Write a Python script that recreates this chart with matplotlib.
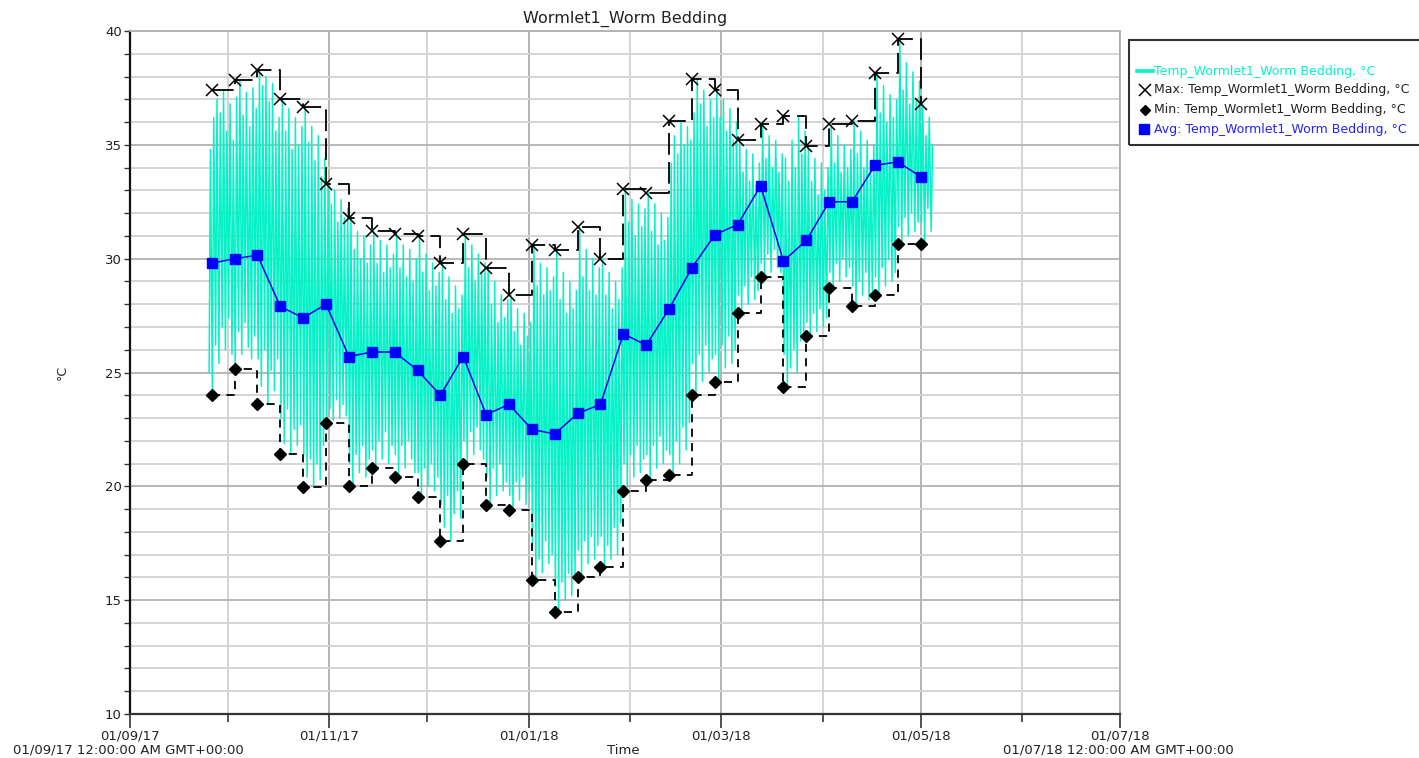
import matplotlib
matplotlib.use('Agg')
import matplotlib.pyplot as plt
import matplotlib.dates as mdates
from matplotlib.lines import Line2D
from matplotlib.patches import Rectangle
from matplotlib.ticker import MultipleLocator
import pandas as pd
from datetime import datetime, timedelta

# ---------------- data ----------------
title = "Wormlet1_Worm Bedding"
series_name = "Temp_Wormlet1_Worm Bedding, °C"

week_start = "2017-09-26"
weekly_max = [37.4, 37.85, 38.3, 37.0, 36.65, 33.3, 31.8, 31.2, 31.1, 31.0, 29.8,
              31.1, 29.6, 28.4, 30.6, 30.4, 31.4, 30.0, 33.05, 32.9, 36.05, 37.9,
              37.4, 35.2, 35.9, 36.25, 34.95, 35.9, 36.05, 38.15, 39.65, 36.8]
weekly_min = [24.0, 25.15, 23.6, 21.4, 19.95, 22.8, 20.0, 20.8, 20.4, 19.55, 17.6,
              21.0, 19.2, 18.95, 15.9, 14.5, 16.0, 16.45, 19.8, 20.3, 20.5, 24.0,
              24.6, 27.6, 29.2, 24.35, 26.6, 28.7, 27.9, 28.4, 30.65, 30.65]
weekly_avg = [29.8, 30.0, 30.15, 27.9, 27.4, 28.0, 25.7, 25.9, 25.9, 25.1, 24.0,
              25.7, 23.15, 23.6, 22.5, 22.3, 23.2, 23.6, 26.7, 26.2, 27.8, 29.6,
              31.05, 31.5, 33.2, 29.9, 30.8, 32.5, 32.5, 34.1, 34.25, 33.6]

# daily readings (first day 2017-09-25): daily high / daily low, °C
daily_start = "2017-09-25"
daily_high = [
    34.8,
    36.2, 37.0, 36.4, 37.4, 35.6, 36.8, 35.2,
    37.1, 37.85, 36.3, 37.3, 35.8, 37.5, 36.6,
    38.3, 37.6, 38.0, 36.9, 37.7, 35.6, 36.2,
    37.0, 35.6, 36.6, 34.8, 36.2, 35.0, 35.8,
    36.65, 35.1, 35.8, 34.3, 35.4, 33.6, 34.4,
    33.3, 32.4, 33.0, 31.6, 32.6, 31.8, 32.2,
    31.8, 30.4, 31.2, 30.0, 31.0, 29.8, 30.6,
    31.2, 29.8, 30.8, 29.4, 30.6, 29.6, 30.2,
    31.1, 29.6, 30.6, 29.2, 30.4, 29.0, 30.0,
    31.0, 29.4, 30.2, 28.6, 29.8, 28.8, 29.4,
    29.8, 28.2, 29.2, 27.6, 28.8, 27.8, 28.4,
    31.1, 29.6, 30.6, 29.0, 30.2, 29.4, 29.8,
    29.6, 28.0, 29.0, 27.2, 28.4, 27.4, 28.2,
    28.4, 26.8, 27.8, 26.2, 27.6, 26.6, 27.2,
    30.6, 28.8, 29.8, 28.4, 29.6, 28.6, 29.2,
    30.4, 28.2, 29.4, 27.6, 29.0, 27.8, 28.6,
    31.4, 29.2, 30.4, 28.6, 30.0, 28.4, 29.6,
    30.0, 28.4, 29.4, 27.8, 29.0, 28.2, 29.6,
    33.05, 31.6, 32.6, 31.0, 32.4, 31.4, 32.2,
    32.9, 31.2, 32.4, 30.6, 32.0, 30.8, 31.8,
    34.2, 35.4, 34.6, 36.05, 35.0, 35.8, 35.2,
    36.4, 37.9, 36.8, 37.4, 35.8, 37.0, 36.2,
    37.4, 36.2, 37.0, 35.6, 36.6, 35.2, 36.0,
    35.2, 33.8, 34.8, 33.4, 34.6, 33.2, 34.2,
    35.9, 34.4, 35.4, 34.0, 35.2, 33.8, 34.6,
    34.4, 33.4, 35.2, 34.0, 36.25, 34.6, 35.6,
    34.95, 33.4, 34.4, 32.8, 34.2, 33.0, 34.0,
    35.9, 34.2, 35.4, 33.8, 35.0, 34.0, 34.8,
    36.05, 34.6, 35.6, 34.0, 35.2, 34.2, 35.0,
    38.15, 36.4, 37.6, 36.0, 37.2, 36.2, 37.0,
    39.65, 37.4, 38.6, 36.8, 38.2, 37.0, 37.8,
    36.8, 35.4, 36.2, 35.0,
]
daily_low = [
    25.0,
    24.0, 26.2, 25.4, 27.0, 26.0, 27.4, 25.8,
    25.15, 26.8, 25.8, 27.2, 26.1, 25.6, 26.6,
    25.6, 24.4, 26.0, 23.6, 25.1, 24.2, 25.6,
    23.0, 21.9, 23.4, 21.4, 22.5, 21.8, 22.7,
    21.4, 20.4, 21.2, 19.95, 21.0, 20.3, 21.8,
    22.8, 23.4, 22.9, 23.8, 23.0, 23.6, 23.1,
    21.0, 20.0, 21.4, 20.6, 21.8, 20.4, 21.2,
    21.6, 20.8, 22.0, 21.2, 22.4, 21.0, 21.8,
    21.4, 20.4, 21.8, 20.8, 22.0, 21.2, 20.6,
    20.6, 19.55, 20.8, 20.0, 21.0, 19.8, 20.4,
    19.2, 18.2, 19.6, 17.6, 18.8, 19.8, 18.6,
    22.0, 21.0, 22.4, 21.4, 22.6, 21.6, 21.2,
    20.4, 19.2, 20.8, 19.6, 21.0, 19.8, 20.2,
    19.6, 18.95, 20.2, 19.4, 20.4, 19.2, 19.8,
    17.2, 15.9, 16.8, 16.2, 17.6, 16.6, 17.0,
    15.6, 14.5, 15.8, 15.0, 16.2, 15.2, 16.0,
    17.2, 16.0, 17.6, 16.6, 17.8, 16.8, 17.4,
    17.8, 16.45, 17.4, 16.8, 18.2, 17.0, 18.4,
    21.0, 19.8, 21.4, 20.4, 21.8, 20.6, 21.2,
    21.4, 20.3, 21.8, 20.8, 22.2, 21.0, 21.6,
    21.4, 20.5, 22.0, 21.0, 22.6, 21.6, 22.8,
    25.4, 24.0, 25.8, 24.6, 26.2, 25.0, 25.6,
    25.8, 24.6, 26.2, 25.2, 26.6, 25.4, 26.0,
    28.4, 27.6, 28.8, 28.0, 29.2, 28.2, 28.6,
    29.8, 29.2, 30.2, 29.4, 30.4, 29.6, 29.4,
    25.8, 24.35, 25.2, 26.0, 25.0, 26.4, 26.8,
    27.2, 26.6, 27.6, 26.8, 27.8, 27.0, 27.4,
    29.4, 28.7, 29.8, 29.0, 30.0, 29.2, 29.6,
    28.8, 27.9, 29.0, 28.4, 29.4, 28.2, 28.6,
    29.2, 28.4, 29.6, 28.8, 30.0, 29.0, 29.4,
    31.4, 30.65, 31.8, 31.0, 32.0, 31.2, 31.6,
    31.6, 30.65, 32.2, 31.2,
]

x_major_labels = ["01/09/17", "01/11/17", "01/01/18", "01/03/18", "01/05/18", "01/07/18"]
x_edge_left = "01/09/17 12:00:00 AM GMT+00:00"
x_edge_right = "01/07/18 12:00:00 AM GMT+00:00"

# ---------------- styling ----------------
W, H = 1419, 758
CYAN = '#05F2C7'
BLUE = '#0000FF'
TXT = '#222222'

plt.rcParams['font.family'] = ['DejaVu Sans']

fig = plt.figure(figsize=(W / 100, H / 100), dpi=100)
fig.patch.set_facecolor('white')
ax = fig.add_axes([130 / W, 1 - 714 / H, 990 / W, 683 / H])

weeks = pd.date_range(week_start, periods=len(weekly_max), freq='7D')

# cyan raw trace: daily low (early morning) and daily high (afternoon)
d0 = pd.Timestamp(daily_start)
t_raw, v_raw = [], []
for i, (lo, hi) in enumerate(zip(daily_low, daily_high)):
    day = d0 + pd.Timedelta(days=i)
    t_raw += [day + pd.Timedelta(hours=5), day + pd.Timedelta(hours=15)]
    v_raw += [lo, hi]
ax.plot(t_raw, v_raw, color=CYAN, lw=1.1, zorder=3)

# max / min step lines
ax.plot(weeks, weekly_max, drawstyle='steps-post', color='black', lw=1.3,
        linestyle=(0, (12, 4)), zorder=4)
ax.plot(weeks, weekly_min, drawstyle='steps-post', color='black', lw=1.3,
        linestyle=(0, (4.5, 3.5)), zorder=4)
ax.plot(weeks, weekly_max, linestyle='none', marker='x', ms=9, mew=1.1,
        color='black', zorder=6)
ax.plot(weeks, weekly_min, linestyle='none', marker='D', ms=6.5,
        color='black', zorder=6)
# average
ax.plot(weeks, weekly_avg, color=BLUE, lw=1.1, marker='s', ms=7.5,
        mfc=BLUE, mec=BLUE, zorder=7)

# axes limits
x0 = datetime(2017, 9, 1)
x1 = datetime(2018, 7, 1)
ax.set_xlim(x0, x1)
ax.set_ylim(10, 40)

# y ticks and grid
ax.yaxis.set_major_locator(MultipleLocator(5))
ax.yaxis.set_minor_locator(MultipleLocator(1))
ax.tick_params(axis='y', which='both', direction='out', length=4, width=1,
               color='#333333', labelsize=9.5, labelcolor=TXT, pad=2)
ax.grid(axis='y', which='minor', color='#d4d4d4', lw=1.4, zorder=0)
ax.grid(axis='y', which='major', color='#b2b2b2', lw=1.3, zorder=0)

# x ticks: months
major_dates = [datetime(2017, 9, 1), datetime(2017, 11, 1), datetime(2018, 1, 1),
               datetime(2018, 3, 1), datetime(2018, 5, 1), datetime(2018, 7, 1)]
minor_dates = [datetime(2017, 10, 1), datetime(2017, 12, 1), datetime(2018, 2, 1),
               datetime(2018, 4, 1), datetime(2018, 6, 1)]
ax.set_xticks(major_dates)
ax.set_xticklabels(x_major_labels)
ax.set_xticks(minor_dates, minor=True)
ax.tick_params(axis='x', which='major', direction='out', length=10, width=1.2,
               color='#333333', labelsize=9.5, labelcolor=TXT, pad=1)
ax.tick_params(axis='x', which='minor', direction='out', length=6, width=1.2,
               color='#333333')
ax.grid(axis='x', which='major', color='#a8a8a8', lw=1.2, zorder=0)
ax.grid(axis='x', which='minor', color='#cccccc', lw=1.2, zorder=0)
ax.set_axisbelow(True)

for s in ['top']:
    ax.spines[s].set_color('#b2b2b2')
    ax.spines[s].set_linewidth(1.3)
ax.spines['right'].set_color('#a8a8a8')
ax.spines['right'].set_linewidth(1.2)
ax.spines['left'].set_color('#111111')
ax.spines['left'].set_linewidth(1.6)
ax.spines['bottom'].set_color('#333333')
ax.spines['bottom'].set_linewidth(1.6)

# edge labels and axis labels
fig.text(128 / W, 1 - 750 / H, x_edge_left, ha='center', va='center',
         fontsize=9.5, color=TXT)
fig.text(1118 / W, 1 - 750 / H, x_edge_right, ha='center', va='center',
         fontsize=9.5, color=TXT)
fig.text(623 / W, 1 - 750 / H, "Time", ha='center', va='center',
         fontsize=9.5, color=TXT)
fig.text(62 / W, 1 - 372 / H, "°C", ha='center', va='center', rotation=90,
         fontsize=9, color=TXT)
fig.text(625 / W, 1 - 19 / H, title, ha='center', va='center',
         fontsize=11.5, color=TXT)

# legend (manual)
fig.add_artist(Rectangle((1129 / W, 1 - 145 / H), 320 / W, 105 / H,
                         transform=fig.transFigure, fill=False,
                         ec='#333333', lw=1.5, clip_on=False))
rows = [71, 90, 110, 129]
leg_texts = [series_name, "Max: " + series_name, "Min: " + series_name,
             "Avg: " + series_name]
leg_colors = [CYAN, TXT, TXT, '#2222ff']
fig.add_artist(Line2D([1137 / W, 1153 / W], [1 - rows[0] / H] * 2,
                      transform=fig.transFigure, color=CYAN, lw=2.6))
fig.add_artist(Line2D([1145 / W], [1 - rows[1] / H], transform=fig.transFigure,
                      linestyle='none', marker='x', ms=8, mew=1.1, color='black'))
fig.add_artist(Line2D([1145 / W], [1 - rows[2] / H], transform=fig.transFigure,
                      linestyle='none', marker='D', ms=5.5, color='black'))
fig.add_artist(Line2D([1144 / W], [1 - rows[3] / H], transform=fig.transFigure,
                      linestyle='none', marker='s', ms=7, color=BLUE))
for r, t, c in zip(rows, leg_texts, leg_colors):
    fig.text(1154 / W, 1 - r / H, t, ha='left', va='center', fontsize=9,
             color=c)

fig.savefig('out.png', dpi=100)
